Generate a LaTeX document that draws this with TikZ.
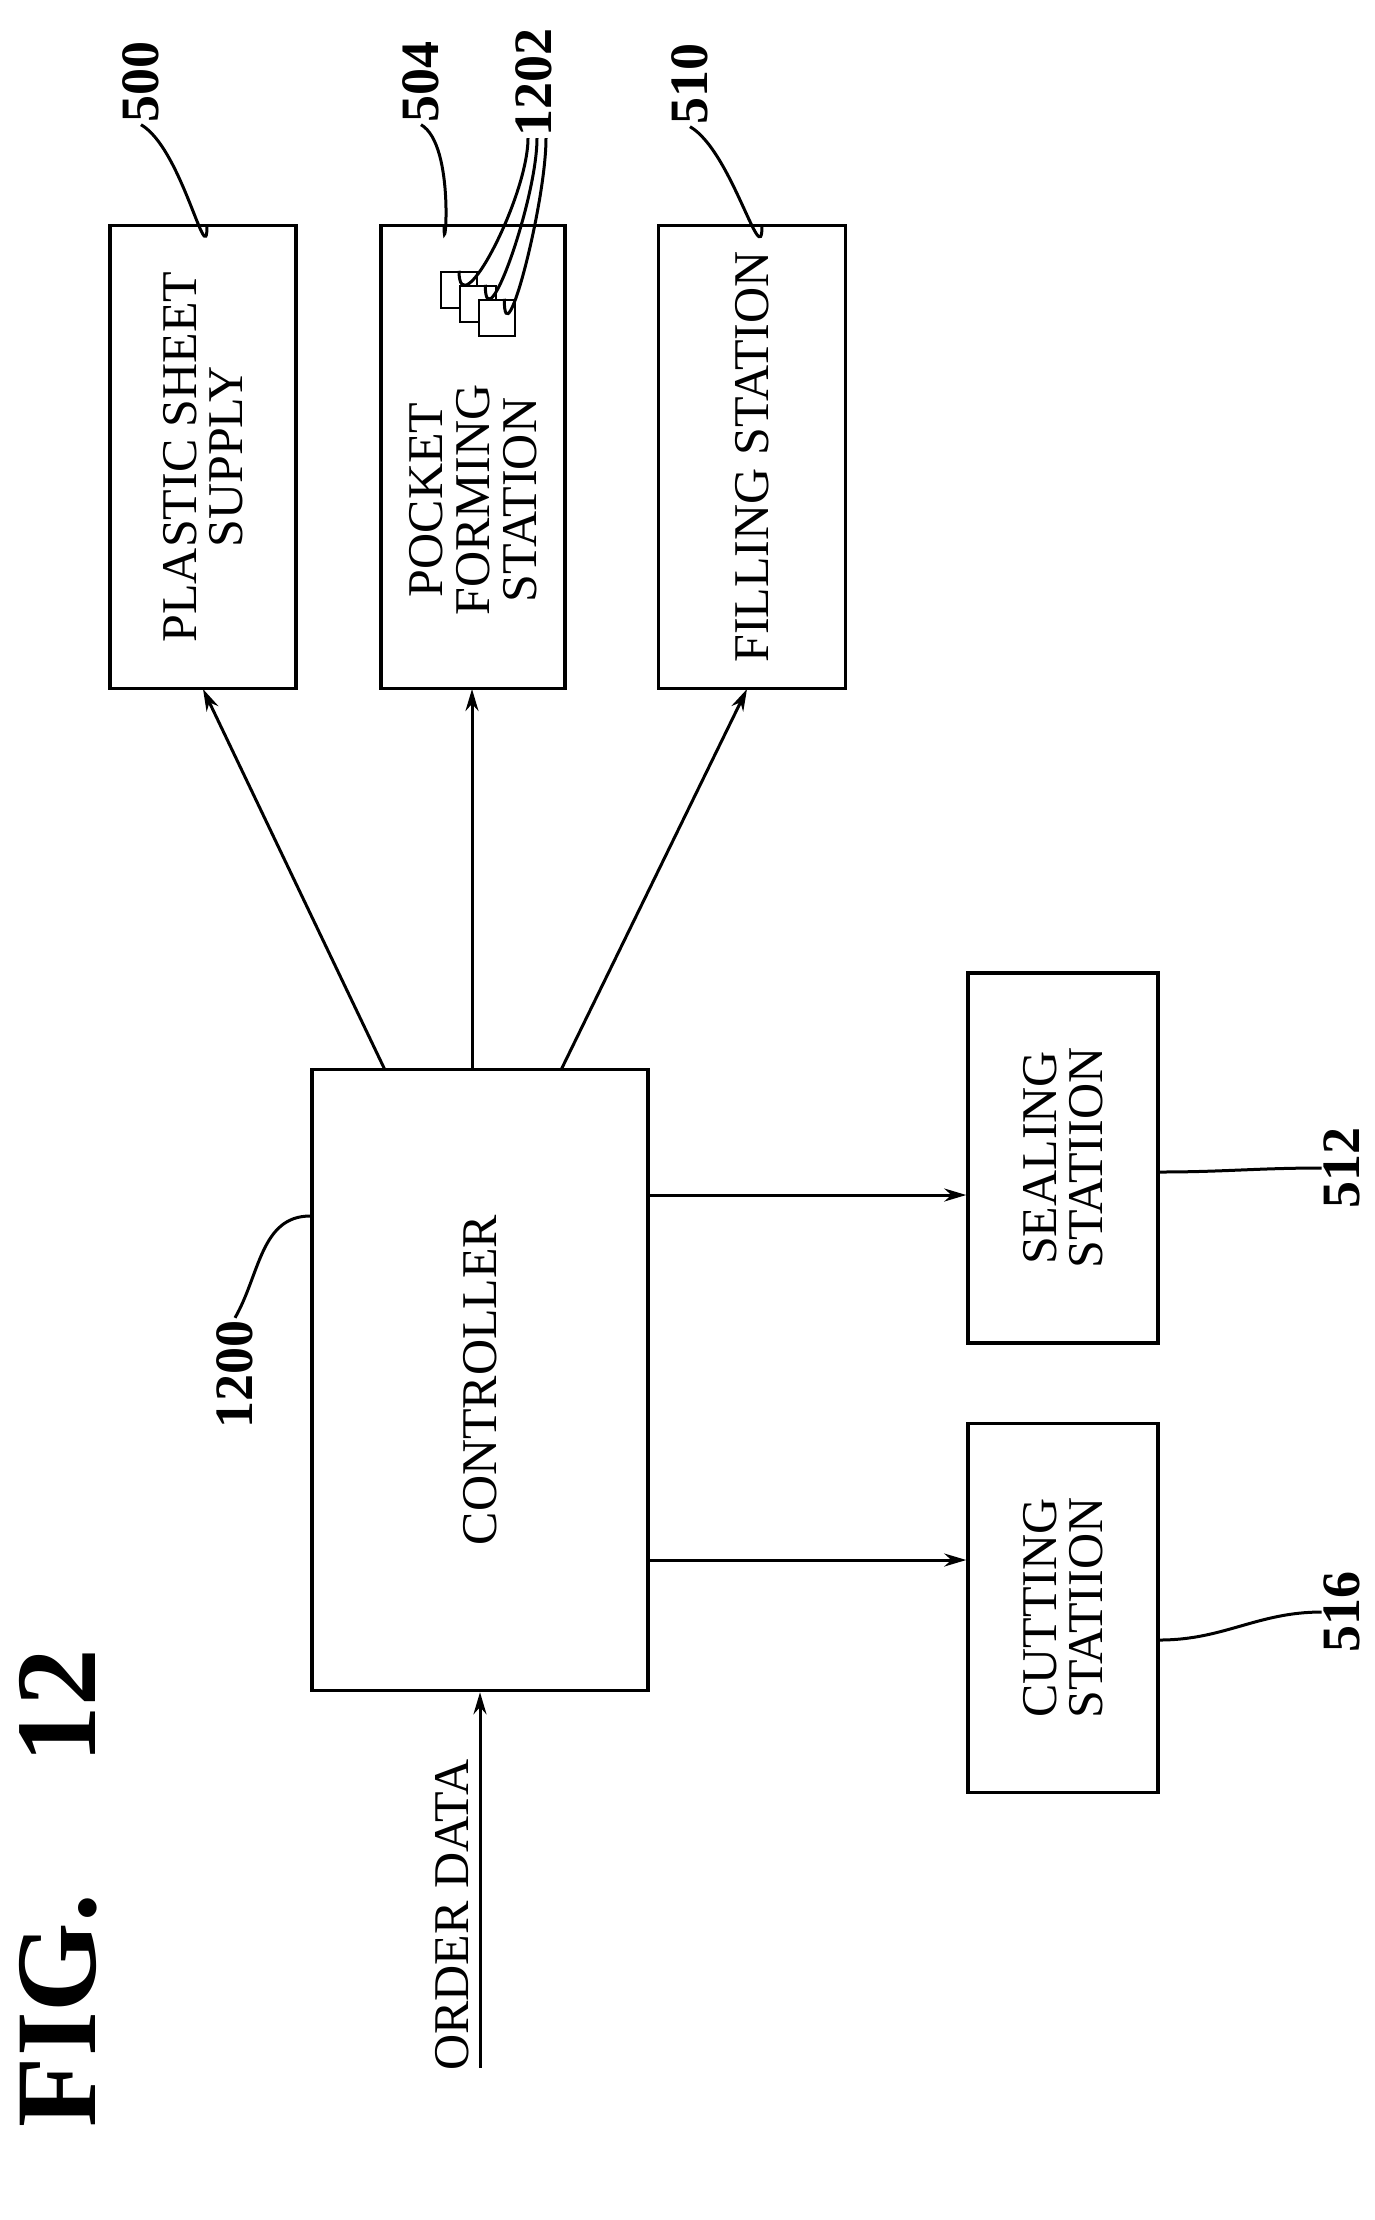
\documentclass[tikz,border=0pt]{standalone}
\usepackage{fontspec}
\setmainfont{Liberation Serif}
\usetikzlibrary{arrows.meta}

\tikzset{
  station/.style={draw, line width=3.5pt, minimum width=#1, inner sep=0pt, font=\fontsize{50}{46}\selectfont, align=center},
  lbl/.style={font=\fontsize{54}{54}\selectfont\bfseries, rotate=90, inner sep=2pt},
  flow/.style={-{Stealth[length=22pt,width=13pt]}, line width=3pt},
  lead/.style={line width=3pt},
}

\begin{document}
\begin{tikzpicture}[x=1pt,y=-1pt]
\useasboundingbox (0,0) rectangle (1375,2220);
% top stations
\node[station=463pt, minimum height=186pt, rotate=90] (psupply) at (203,457) {PLASTIC SHEET\\SUPPLY};
\node[station=463pt, minimum height=184pt, rotate=90] (pocket) at (473,457) {};
\node[rotate=90, font=\fontsize{50}{47}\selectfont, align=center] (pockettxt) at (473,500) {POCKET\\FORMING\\STATION};
\node[station=463pt, minimum height=187pt, rotate=90] (filling) at (752,457) {FILLING STATION};
% controller
\node[station=621pt, minimum height=336pt, rotate=90] (ctrl) at (480,1380) {CONTROLLER};
% right stations
\node[station=370pt, minimum height=190pt, rotate=90] (sealing) at (1063,1158) {SEALING\\STATIION};
\node[station=369pt, minimum height=190pt, rotate=90] (cutting) at (1063,1608) {CUTTING\\STATIION};
% forming tools
\node[draw, line width=2.5pt, fill=white, minimum size=36pt, inner sep=0pt] (sqa) at (459,290) {};
\node[draw, line width=2.5pt, fill=white, minimum size=36pt, inner sep=0pt] (sqb) at (478,304) {};
\node[draw, line width=2.5pt, fill=white, minimum size=36pt, inner sep=0pt] (sqc) at (497,318) {};
% arrows
\draw[flow] (385,1070) -- (psupply.east |- 0,689);
\draw[flow] (472,1070) -- (472,689);
\draw[flow] (561,1070) -- (747,689);
\draw[flow] (ctrl.south |- 0,1195) -- (sealing.north |- 0,1195);
\draw[flow] (ctrl.south |- 0,1560) -- (cutting.north |- 0,1560);
\coordinate (order) at (480,2068);
\draw[flow] (order) -- (order |- ctrl.west);
\node[rotate=90, font=\fontsize{50}{46}\selectfont] (orderlbl) at (452,1915) {ORDER DATA};
% reference numerals
\node[lbl] (n500) at (141,82) {500};
\node[lbl] (n504) at (421,82) {504};
\node[lbl] (n1202) at (534,82) {1202};
\node[lbl] (n510) at (690,84) {510};
\node[lbl] (n512) at (1342,1168) {512};
\node[lbl] (n516) at (1342,1612) {516};
\node[lbl] (n1200) at (235,1374) {1200};
\node[font=\fontsize{115}{115}\selectfont\bfseries, rotate=90] (fig) at (58,1888) {FIG.\hspace{130pt}12};
% leaders
\draw[lead] (207,226) to[out=-90,in=-30] (n500.west);
\draw[lead] (444,226) to[out=-90,in=-30] (n504.west);
\draw[lead] (762,226) to[out=-90,in=-30] (n510.west);
\draw[lead] (sqa.north) to[out=-90,in=-90] ([xshift=-6pt]n1202.west);
\draw[lead] (sqb.north east) ++(-12,0) to[out=-90,in=-90] ([xshift=3pt]n1202.west);
\draw[lead] (sqc.north east) ++(-12,0) to[out=-90,in=-90] ([xshift=12pt]n1202.west);
\draw[lead] (sealing.south |- 0,1172) to[out=0,in=180] (n512.north);
\draw[lead] (cutting.south |- 0,1640) to[out=0,in=180] (n516.north);
\draw[lead] (ctrl.north |- 0,1216) to[out=180,in=60] (n1200.east);
\end{tikzpicture}
\end{document}
